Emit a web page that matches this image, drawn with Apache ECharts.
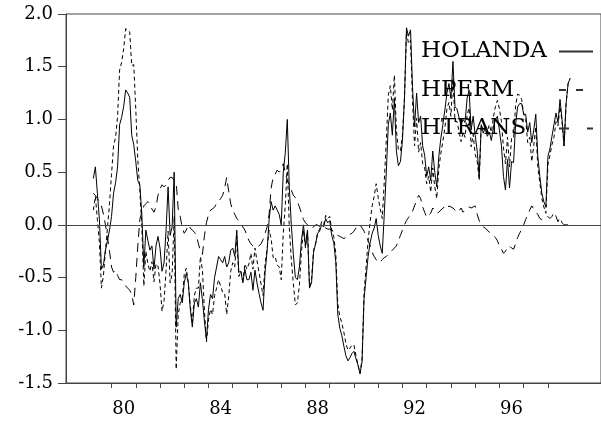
<!DOCTYPE html>
<html><head><meta charset="utf-8">
<script src="https://cdn.jsdelivr.net/npm/echarts@6/dist/echarts.min.js"></script>
<style>html,body{margin:0;padding:0;background:#fff}#c{width:601px;height:422px}</style>
</head><body><div id="c"></div>
<script>
// monthly series, first observation 1979:04
const startYear = 1979, startMonth = 4;
const seriesNames = ['HOLANDA', 'HPERM', 'HTRANS'];
const tickYears = [1980,1981,1982,1983,1984,1985,1986,1987,1988,1989,1990,1991,1992,1993,1994,1995,1996,1997,1998];
const labelYears = [1980, 1984, 1988, 1992, 1996];
const tickLabels = ['80', '84', '88', '92', '96'];

const holanda = [
 0.44,0.55,0.30,0.05,-0.42,-0.38,-0.24,-0.15,-0.05,
 0.08,0.30,0.40,0.55,0.95,1.02,1.12,1.28,1.25,1.21,0.85,0.76,
 0.60,0.42,0.38,0.10,-0.40,-0.05,-0.15,-0.24,-0.20,-0.42,-0.20,-0.11,
 -0.22,-0.44,-0.36,-0.05,0.36,-0.10,-0.02,0.50,-0.97,-0.70,-0.66,-0.74,
 -0.55,-0.46,-0.55,-0.80,-0.97,-0.74,-0.70,-0.78,-0.55,-0.71,-0.92,-1.09,
 -0.80,-0.66,-0.70,-0.50,-0.40,-0.30,-0.33,-0.36,-0.30,-0.40,-0.36,-0.24,
 -0.22,-0.30,-0.05,-0.45,-0.44,-0.55,-0.42,-0.52,-0.52,-0.45,-0.62,-0.43,
 -0.55,-0.65,-0.74,-0.81,-0.45,-0.25,0.05,0.22,0.14,0.18,0.14,0.10,
 0.00,0.50,0.68,1.00,0.35,0.00,-0.28,-0.50,-0.52,-0.40,-0.15,0.00,
 -0.20,-0.05,-0.60,-0.55,-0.26,-0.18,-0.08,-0.06,0.00,-0.02,0.06,0.02,
 0.04,-0.10,-0.17,-0.35,-0.85,-0.98,-1.05,-1.15,-1.24,-1.29,-1.26,-1.22,
 -1.20,-1.27,-1.33,-1.41,-1.30,-0.70,-0.50,-0.30,-0.17,-0.08,-0.03,0.06,
 -0.10,-0.20,-0.27,0.10,0.50,0.95,1.06,0.85,1.20,0.70,0.56,0.60,
 0.80,1.20,1.87,1.79,1.85,1.30,0.93,1.25,0.97,1.03,0.75,0.66,
 0.46,0.55,0.42,0.70,0.50,0.36,0.65,0.82,0.95,1.09,1.25,1.34,
 1.20,1.55,1.12,1.10,1.02,0.95,1.00,0.97,1.20,1.28,0.90,1.03,
 0.85,0.70,0.46,0.95,0.87,0.92,0.84,0.88,0.80,0.92,1.00,1.03,
 0.90,0.75,0.46,0.33,0.62,0.35,0.60,0.59,0.95,1.12,1.15,1.15,
 1.05,1.05,0.88,0.97,0.78,0.90,1.05,0.65,0.46,0.30,0.22,0.17,
 0.65,0.72,0.84,0.95,1.06,0.97,1.19,1.00,0.75,1.15,1.34,1.39
];
const hperm = [
 0.14,0.27,0.05,-0.17,-0.60,-0.48,-0.24,-0.03,0.20,
 0.48,0.75,0.83,1.03,1.47,1.54,1.67,1.86,1.85,1.83,1.51,1.52,
 1.10,0.62,0.33,-0.02,-0.58,-0.25,-0.37,-0.44,-0.35,-0.54,-0.37,-0.39,
 -0.56,-0.82,-0.72,-0.43,-0.06,-0.55,-0.47,0.08,-1.37,-0.85,-0.74,-0.71,
 -0.47,-0.41,-0.55,-0.77,-0.92,-0.67,-0.60,-0.60,-0.30,-0.43,-0.82,-1.11,
 -0.90,-0.80,-0.85,-0.67,-0.60,-0.52,-0.58,-0.64,-0.65,-0.85,-0.68,-0.44,
 -0.36,-0.40,-0.11,-0.49,-0.44,-0.53,-0.37,-0.42,-0.37,-0.27,-0.42,-0.22,
 -0.34,-0.45,-0.56,-0.67,-0.37,-0.23,-0.05,-0.13,-0.31,-0.30,-0.38,-0.40,
 -0.52,-0.08,0.18,0.58,-0.03,-0.33,-0.56,-0.76,-0.74,-0.57,-0.26,-0.05,
 -0.22,-0.05,-0.58,-0.52,-0.24,-0.18,-0.08,-0.04,0.03,0.00,0.09,0.06,
 0.08,-0.05,-0.11,-0.27,-0.75,-0.87,-0.93,-1.02,-1.12,-1.19,-1.17,-1.14,
 -1.14,-1.24,-1.33,-1.41,-1.27,-0.64,-0.40,-0.15,0.03,0.18,0.27,0.39,
 0.26,0.15,0.06,0.41,0.80,1.23,1.32,1.09,1.42,0.90,0.71,0.70,
 0.85,1.20,1.83,1.72,1.75,1.17,0.75,1.01,0.69,0.78,0.58,0.54,
 0.39,0.46,0.31,0.54,0.36,0.25,0.53,0.68,0.79,0.92,1.10,1.16,
 1.03,1.39,0.98,0.98,0.89,0.79,0.88,0.83,1.04,1.11,0.74,0.86,
 0.67,0.60,0.42,0.95,0.89,0.95,0.89,0.95,0.88,1.02,1.12,1.18,
 1.10,0.98,0.73,0.58,0.83,0.55,0.82,0.82,1.13,1.24,1.23,1.19,
 1.05,1.00,0.78,0.83,0.60,0.75,0.93,0.55,0.40,0.25,0.17,0.11,
 0.57,0.66,0.76,0.83,0.98,0.94,1.12,0.98,0.75,1.15,1.34,1.39
];
const htrans = [
 0.30,0.28,0.25,0.22,0.18,0.10,0.00,-0.12,-0.25,
 -0.40,-0.45,-0.43,-0.48,-0.52,-0.52,-0.55,-0.58,-0.60,-0.62,-0.66,-0.76,
 -0.50,-0.20,0.05,0.12,0.18,0.20,0.22,0.20,0.15,0.12,0.17,0.28,
 0.34,0.38,0.36,0.38,0.42,0.45,0.45,0.42,0.40,0.15,0.08,-0.03,
 -0.08,-0.05,0.00,-0.03,-0.05,-0.07,-0.10,-0.18,-0.25,-0.28,-0.10,0.02,
 0.10,0.14,0.15,0.17,0.20,0.22,0.25,0.28,0.35,0.45,0.32,0.20,
 0.14,0.10,0.06,0.04,0.00,-0.02,-0.05,-0.10,-0.15,-0.18,-0.20,-0.21,
 -0.21,-0.20,-0.18,-0.14,-0.08,-0.02,0.10,0.35,0.45,0.48,0.52,0.50,
 0.52,0.58,0.50,0.42,0.38,0.33,0.28,0.26,0.22,0.17,0.11,0.05,
 0.02,0.00,-0.02,-0.03,-0.02,0.00,0.00,-0.02,-0.03,-0.02,-0.03,-0.04,
 -0.04,-0.05,-0.06,-0.08,-0.10,-0.11,-0.12,-0.13,-0.12,-0.10,-0.09,-0.08,
 -0.06,-0.03,0.00,0.00,-0.03,-0.06,-0.10,-0.15,-0.20,-0.26,-0.30,-0.33,
 -0.36,-0.35,-0.33,-0.31,-0.30,-0.28,-0.26,-0.24,-0.22,-0.20,-0.15,-0.10,
 -0.05,0.00,0.04,0.07,0.10,0.13,0.18,0.24,0.28,0.25,0.17,0.12,
 0.07,0.09,0.11,0.16,0.14,0.11,0.12,0.14,0.16,0.17,0.15,0.18,
 0.17,0.16,0.14,0.12,0.13,0.16,0.12,0.14,0.16,0.17,0.16,0.17,
 0.18,0.10,0.04,0.00,-0.02,-0.03,-0.05,-0.07,-0.08,-0.10,-0.12,-0.15,
 -0.20,-0.23,-0.27,-0.25,-0.21,-0.20,-0.22,-0.23,-0.18,-0.12,-0.08,-0.04,
 0.00,0.05,0.10,0.14,0.18,0.15,0.12,0.10,0.06,0.05,0.05,0.06,
 0.08,0.06,0.08,0.12,0.08,0.03,0.07,0.02,0.00,0.00,0.00,0.00
];

function withTime(values) {
  return values.map((v, i) => [startYear + (startMonth - 1 + i) / 12, v]);
}

const FONT = 'DejaVu Serif';
const chart = echarts.init(document.getElementById('c'), null, { renderer: 'canvas' });
const labelPos = labelYears.map(y => y + 0.5);
const legendDash = { HOLANDA: 'solid', HPERM: [7, 10], HTRANS: [10, 18] };

chart.setOption({
  animation: false,
  backgroundColor: '#fff',
  grid: { left: 66, top: 14, right: -2, bottom: 39, show: true, borderColor: '#444', borderWidth: 1, backgroundColor: 'transparent' },
  legend: {
    data: seriesNames.map(n => ({ name: n, lineStyle: { type: legendDash[n], color: '#333' } })),
    orient: 'vertical',
    align: 'right',
    right: 7,
    top: 40,
    padding: 0,
    itemGap: 15.5,
    itemWidth: 34,
    itemHeight: 14,
    itemStyle: { color: 'transparent', borderColor: 'transparent', borderWidth: 0, opacity: 0 },
    formatter: name => '{a|' + name + '}',
    textStyle: {
      color: '#000',
      rich: { a: { width: 133, align: 'left', fontFamily: FONT, fontSize: 23, lineHeight: 22, color: '#000' } }
    }
  },
  xAxis: {
    type: 'value',
    min: 1978.122,
    max: 2000.19,
    splitLine: { show: false },
    axisLine: { show: true, onZero: false, lineStyle: { color: '#444', width: 1 } },
    axisTick: { show: true, length: 5, customValues: tickYears, lineStyle: { color: '#444' } },
    axisLabel: {
      customValues: labelPos,
      margin: 17,
      fontFamily: FONT, fontSize: 18, color: '#000',
      formatter: v => { const i = labelPos.findIndex(p => Math.abs(p - v) < 1e-6); return i >= 0 ? tickLabels[i] : ''; }
    }
  },
  yAxis: {
    type: 'value',
    min: -1.5,
    max: 2.0,
    interval: 0.5,
    splitLine: { show: false },
    axisLine: { show: true, lineStyle: { color: '#444', width: 1 } },
    axisTick: { show: true, length: 8, lineStyle: { color: '#444' } },
    axisLabel: { margin: 13, fontFamily: FONT, fontSize: 18, color: '#000', formatter: v => v.toFixed(1) }
  },
  series: [
    {
      name: 'HOLANDA', type: 'line', data: withTime(holanda), showSymbol: false, symbol: 'none',
      lineStyle: { color: '#000', width: 1, type: 'solid' }, itemStyle: { color: '#000' },
      markLine: { silent: true, symbol: 'none', label: { show: false }, data: [{ yAxis: 0 }], lineStyle: { color: '#444', width: 1, type: 'solid' } },
      z: 3
    },
    {
      name: 'HPERM', type: 'line', data: withTime(hperm), showSymbol: false, symbol: 'none',
      lineStyle: { color: '#000', width: 1, type: [4, 3] }, itemStyle: { color: '#000' }, z: 2
    },
    {
      name: 'HTRANS', type: 'line', data: withTime(htrans), showSymbol: false, symbol: 'none',
      lineStyle: { color: '#000', width: 1, type: [9, 6] }, itemStyle: { color: '#000' }, z: 2
    }
  ]
});
</script>
</body></html>
